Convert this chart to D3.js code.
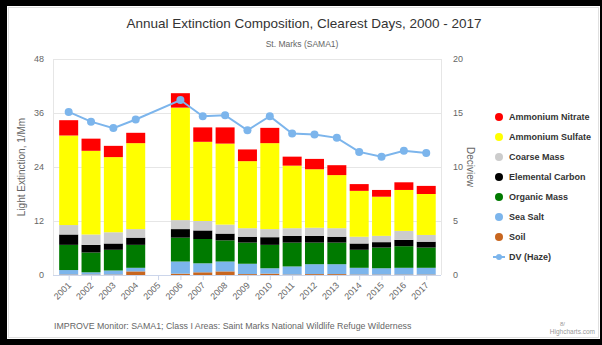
<!DOCTYPE html>
<html><head><meta charset="utf-8">
<script src="https://cdn.jsdelivr.net/npm/d3@7"></script>
<style>
html,body{margin:0;padding:0;background:#000;}
svg{display:block;font-family:"Liberation Sans",Arial,sans-serif;}
</style></head>
<body><svg id="c" width="602" height="345"></svg>
<script>
const years = ["2001","2002","2003","2004","2005","2006","2007","2008","2009","2010","2011","2012","2013","2014","2015","2016","2017"];
const soil          = [0.1,0.1,0.1,0.8,null,0.3,0.6,0.8,0.2,0.3,0.1,0.2,0.2,0.1,0.1,0.1,0.1];
const seaSalt       = [1.0,0.5,0.9,0.8,null,2.7,2.0,2.2,2.3,1.2,1.8,2.2,2.2,1.5,1.4,1.5,1.5];
const organicMass   = [5.6,4.4,4.6,5.1,null,5.3,5.4,4.7,4.7,5.2,5.3,4.8,4.8,4.0,4.6,4.8,4.5];
const elementalCarbon=[2.3,1.7,1.4,1.6,null,1.9,1.9,1.5,1.3,1.7,1.5,1.5,1.3,1.4,1.2,1.4,1.3];
const coarseMass    = [2.1,2.3,2.5,1.9,null,2.0,2.1,2.0,1.9,1.8,1.7,1.8,1.9,1.5,1.4,2.0,1.5];
const ammSulfate    = [19.9,18.6,16.7,19.1,null,25.0,17.6,18.0,14.9,19.1,13.9,13.0,11.8,10.2,8.7,9.1,9.1];
const ammNitrate    = [3.4,2.7,2.5,2.3,null,3.2,3.2,3.6,2.6,3.4,2.0,2.3,2.2,1.5,1.5,1.7,1.8];
const dvHaze        = [15.1,14.2,13.6,14.4,null,16.2,14.7,14.8,13.4,14.7,13.1,13.0,12.7,11.4,10.95,11.5,11.3];
const leftTicks = [0,12,24,36,48];
const rightTicks = [0,5,10,15,20];

const series = [
  {name:"Soil", values:soil, color:"#c8661f"},
  {name:"Sea Salt", values:seaSalt, color:"#7cb5ec"},
  {name:"Organic Mass", values:organicMass, color:"#007a00"},
  {name:"Elemental Carbon", values:elementalCarbon, color:"#000000"},
  {name:"Coarse Mass", values:coarseMass, color:"#cccccc"},
  {name:"Ammonium Sulfate", values:ammSulfate, color:"#ffff00"},
  {name:"Ammonium Nitrate", values:ammNitrate, color:"#ff0000"}
];

const svg = d3.select("#c");
// frame
svg.append("rect").attr("x",0).attr("y",0).attr("width",602).attr("height",345).attr("fill","#000");
svg.append("rect").attr("x",7).attr("y",6).attr("width",593).attr("height",333).attr("fill","#fff");
svg.append("rect").attr("x",8.5).attr("y",7.5).attr("width",590).attr("height",330).attr("fill","none").attr("stroke","#e0e0e0");

const plotL=53, plotR=441, plotT=59, plotB=275;
const x = d3.scaleBand().domain(years).range([57.5,437.4]).paddingInner(0.15).paddingOuter(0.075);
const yL = d3.scaleLinear().domain([0,48]).range([plotB,plotT]);
const yR = d3.scaleLinear().domain([0,20]).range([plotB,plotT]);

// gridlines
svg.append("g").selectAll("line").data(leftTicks).join("line")
  .attr("x1",plotL).attr("x2",plotR).attr("y1",d=>yL(d)+0.5).attr("y2",d=>yL(d)+0.5)
  .attr("stroke","#e6e6e6");
svg.append("line").attr("x1",plotL+0.5).attr("x2",plotL+0.5).attr("y1",plotT).attr("y2",plotB).attr("stroke","#e6e6e6");
svg.append("line").attr("x1",plotR+0.5).attr("x2",plotR+0.5).attr("y1",plotT).attr("y2",plotB).attr("stroke","#e6e6e6");

// left axis
const gL = svg.append("g").attr("transform",`translate(${plotL-9},0)`)
  .call(d3.axisLeft(yL).tickValues(leftTicks).tickSize(0).tickPadding(0));
gL.select(".domain").remove();
gL.selectAll("text").attr("fill","#666").attr("font-size","9px").attr("font-family","Liberation Sans, Arial");
// right axis
const gR = svg.append("g").attr("transform",`translate(${plotR+12},0)`)
  .call(d3.axisRight(yR).tickValues(rightTicks).tickSize(0).tickPadding(0));
gR.select(".domain").remove();
gR.selectAll("text").attr("fill","#666").attr("font-size","9px").attr("font-family","Liberation Sans, Arial");

// stacks
const rows = years.map((yr,i)=>{const o={year:yr}; series.forEach(s=>o[s.name]=s.values[i]||0); return o;});
const stack = d3.stack().keys(series.map(s=>s.name))(rows);
svg.append("g").selectAll("g").data(stack).join("g")
  .attr("fill",(d,i)=>series[i].color)
  .selectAll("rect").data(d=>d.filter(p=>p[1]>p[0])).join("rect")
  .attr("x",d=>x(d.data.year)).attr("width",x.bandwidth())
  .attr("y",d=>yL(d[1])).attr("height",d=>yL(d[0])-yL(d[1]));

// x axis
const gX = svg.append("g").attr("transform",`translate(0,${plotB})`)
  .call(d3.axisBottom(x).tickSize(5).tickPadding(0));
gX.select(".domain").attr("d",`M${plotL},0.5H${plotR}`).attr("stroke","#ccd6eb");
gX.selectAll(".tick line").attr("stroke","#ccd6eb").attr("transform","translate(0.5,0)");
gX.selectAll("text").attr("fill","#666").attr("font-size","9px").attr("font-family","Liberation Sans, Arial")
  .attr("text-anchor","end").attr("dy",0).attr("y",0)
  .attr("transform","translate(3,11) rotate(-45)");

// DV line
const dvPts = years.map((yr,i)=>({year:yr,v:dvHaze[i]})).filter(d=>d.v!=null);
svg.append("path").datum(dvPts)
  .attr("d",d3.line().x(d=>x(d.year)+x.bandwidth()/2).y(d=>yR(d.v)))
  .attr("fill","none").attr("stroke","#7cb5ec").attr("stroke-width",2);
svg.append("g").selectAll("circle").data(dvPts).join("circle")
  .attr("cx",d=>x(d.year)+x.bandwidth()/2).attr("cy",d=>yR(d.v)).attr("r",4)
  .attr("fill","#7cb5ec");

// titles
svg.append("text").attr("x",304).attr("y",28).attr("text-anchor","middle")
  .attr("font-size","13.5px").attr("fill","#333").text("Annual Extinction Composition, Clearest Days, 2000 - 2017");
svg.append("text").attr("x",302).attr("y",47).attr("text-anchor","middle")
  .attr("font-size","8.5px").attr("fill","#666").text("St. Marks (SAMA1)");
svg.append("text").attr("transform",`translate(25,167) rotate(-90)`).attr("text-anchor","middle")
  .attr("font-size","10px").attr("fill","#666").text("Light Extinction, 1/Mm");
svg.append("text").attr("transform",`translate(467,167) rotate(90)`).attr("text-anchor","middle")
  .attr("font-size","10px").attr("fill","#666").text("Deciview");

// legend
const legendItems = series.slice().reverse().map(s=>({name:s.name,color:s.color,type:"dot"}));
legendItems.push({name:"DV (Haze)",color:"#7cb5ec",type:"line"});
const lg = svg.append("g").selectAll("g").data(legendItems).join("g")
  .attr("transform",(d,i)=>`translate(499,${117+i*20})`);
lg.filter(d=>d.type==="dot").append("circle").attr("r",4).attr("fill",d=>d.color);
lg.filter(d=>d.type==="line").append("line").attr("x1",-6).attr("x2",6).attr("stroke",d=>d.color).attr("stroke-width",2);
lg.filter(d=>d.type==="line").append("circle").attr("r",3).attr("fill",d=>d.color);
lg.append("text").attr("x",10).attr("y",3.2).attr("font-size","9px").attr("font-weight","bold")
  .attr("fill","#333").text(d=>d.name);

// footer
svg.append("text").attr("x",54).attr("y",329).attr("font-size","8.8px").attr("fill","#666")
  .text("IMPROVE Monitor: SAMA1; Class I Areas: Saint Marks National Wildlife Refuge Wilderness");
svg.append("text").attr("x",560).attr("y",326).attr("font-size","6px").attr("fill","#999").text("8/");
svg.append("text").attr("x",595).attr("y",334).attr("text-anchor","end").attr("font-size","6.5px").attr("fill","#999").text("Highcharts.com");
</script></body></html>
